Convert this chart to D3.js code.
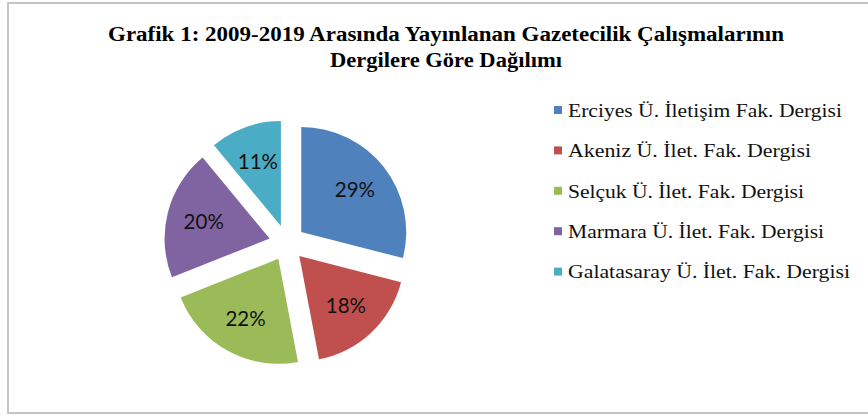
<!DOCTYPE html>
<html>
<head>
<meta charset="utf-8">
<script src="https://cdn.jsdelivr.net/npm/d3@7"></script>
<style>
  html, body { margin: 0; padding: 0; background: #fff; }
  svg { display: block; }
</style>
</head>
<body>
<div id="chart"></div>
<script>
// veriler
var categories = [
  "Erciyes Ü. İletişim Fak. Dergisi",
  "Akeniz Ü. İlet. Fak. Dergisi",
  "Selçuk Ü. İlet. Fak. Dergisi",
  "Marmara Ü. İlet. Fak. Dergisi",
  "Galatasaray Ü. İlet. Fak. Dergisi"
];
var values = [29, 18, 22, 20, 11];
var colors = ["#4f81bd", "#c0504d", "#9bbb59", "#8064a2", "#4bacc6"];
var titleLines = [
  "Grafik 1: 2009-2019  Arasında Yayınlanan Gazetecilik Çalışmalarının",
  "Dergilere Göre Dağılımı"
];

var W = 868, H = 417;
var svg = d3.select("#chart").append("svg").attr("width", W).attr("height", H);

// çerçeve
svg.append("rect")
  .attr("x", 8).attr("y", 3).attr("width", W + 10).attr("height", 410)
  .attr("fill", "#fff").attr("stroke", "#c4c4c4").attr("stroke-width", 2);

// başlık
var titleW = [676, 232];
svg.selectAll("text.title").data(titleLines).enter().append("text")
  .attr("class", "title")
  .attr("x", 446)
  .attr("y", function(d, i) { return 41 + i * 25.5; })
  .attr("text-anchor", "middle")
  .attr("font-family", "'Liberation Serif', serif")
  .attr("font-weight", "bold")
  .attr("font-size", 20.5)
  .attr("fill", "#000")
  .attr("textLength", function(d, i) { return titleW[i]; })
  .attr("lengthAdjust", "spacingAndGlyphs")
  .text(function(d) { return d; });

// pasta
var cx = 287, cy = 243, r = 105, explode = 18;
var pie = d3.pie().sort(null).value(function(d) { return d; });
var arc = d3.arc().innerRadius(0).outerRadius(r);
var arcs = pie(values);

var g = svg.append("g").attr("transform", "translate(" + cx + "," + cy + ")");

function offset(d, k) {
  var a = (d.startAngle + d.endAngle) / 2;
  return [Math.sin(a) * k, -Math.cos(a) * k];
}

var slice = g.selectAll("g.slice").data(arcs).enter().append("g")
  .attr("class", "slice")
  .attr("transform", function(d) { var o = offset(d, explode); return "translate(" + o[0] + "," + o[1] + ")"; });

slice.append("path")
  .attr("d", arc)
  .attr("fill", function(d, i) { return colors[i]; });

slice.append("text")
  .attr("x", function(d) { return offset(d, 68)[0]; })
  .attr("y", function(d) { return offset(d, 68)[1]; })
  .attr("dy", "0.35em")
  .attr("text-anchor", "middle")
  .attr("font-family", "Lato, 'Open Sans', sans-serif")
  .attr("font-size", 20.5)
  .attr("fill", "#111")
  .text(function(d) { return d.data + "%"; });

// lejant
var legendW = [274, 243, 236, 256, 282];
var legend = svg.selectAll("g.legend").data(categories).enter().append("g")
  .attr("class", "legend")
  .attr("transform", function(d, i) { return "translate(554," + (110 + i * 40.4) + ")"; });

legend.append("rect")
  .attr("x", 0).attr("y", -4).attr("width", 8).attr("height", 8)
  .attr("fill", function(d, i) { return colors[i]; });

legend.append("text")
  .attr("x", 14)
  .attr("y", 0)
  .attr("dy", "0.35em")
  .attr("font-family", "'Liberation Serif', serif")
  .attr("font-size", 19.5)
  .attr("fill", "#111")
  .attr("textLength", function(d, i) { return legendW[i]; })
  .attr("lengthAdjust", "spacingAndGlyphs")
  .text(function(d) { return d; });
</script>
</body>
</html>
